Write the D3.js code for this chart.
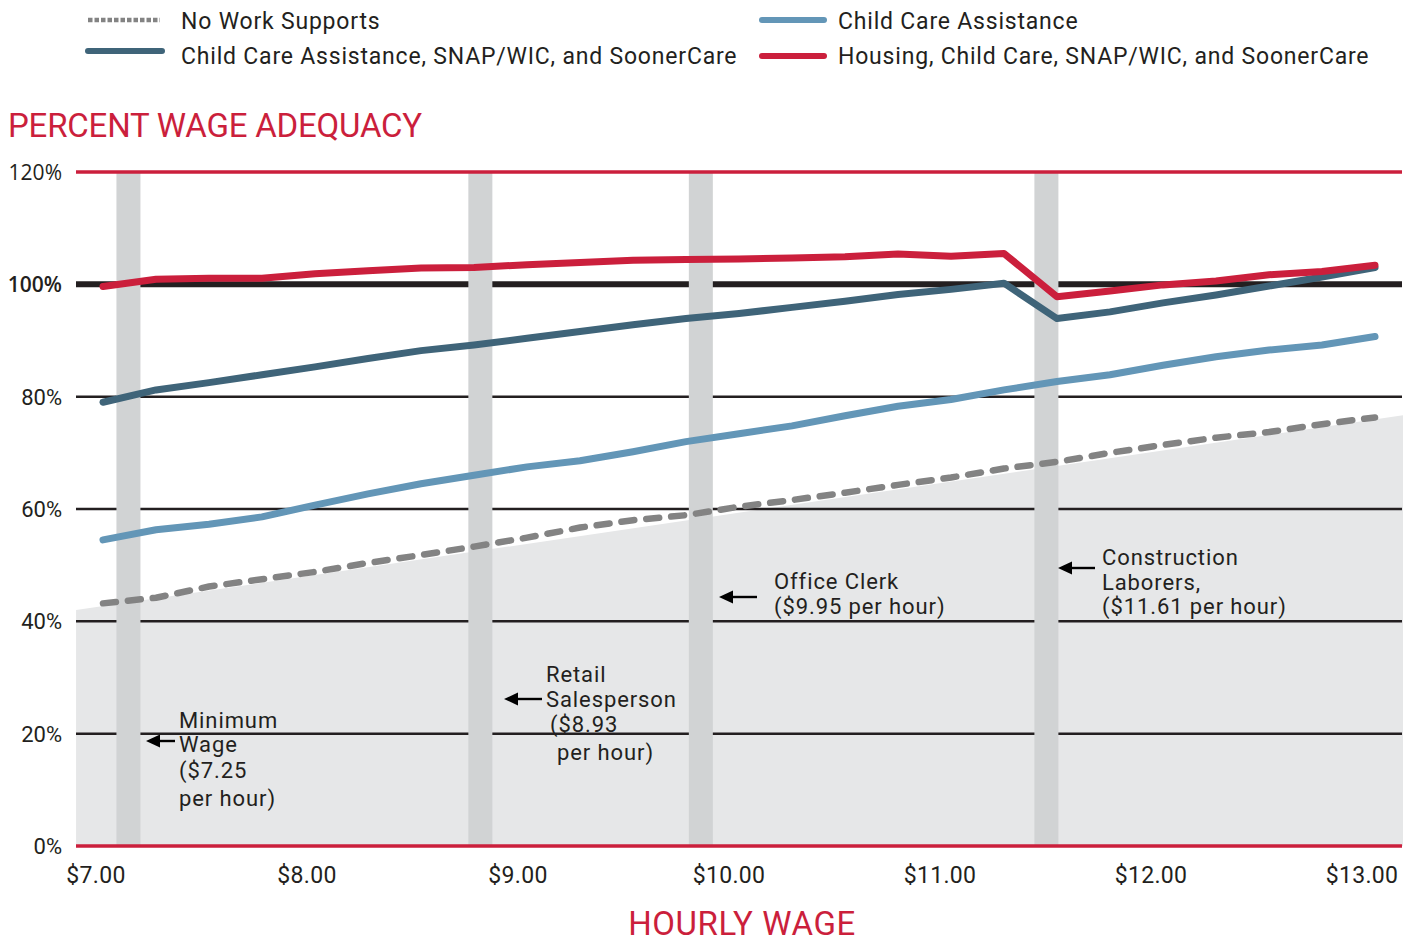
<!DOCTYPE html>
<html>
<head>
<meta charset="utf-8">
<script src="https://cdn.jsdelivr.net/npm/d3@7"></script>
<style>
  body { margin: 0; background: #fff; }
  svg text { font-family: Roboto, "Liberation Sans", sans-serif; fill: #231f20; }
</style>
</head>
<body>
<div id="chart"></div>
<script>

// hourly wages ($0.25 steps)
var wages = [7.00, 7.25, 7.50, 7.75, 8.00, 8.25, 8.50, 8.75, 9.00, 9.25, 9.50, 9.75, 10.00,
             10.25, 10.50, 10.75, 11.00, 11.25, 11.50, 11.75, 12.00, 12.25, 12.50, 12.75, 13.00];

// percent wage adequacy per series
var noSupports    = [43.2, 44.2, 46.2, 47.5, 48.8, 50.4, 51.8, 53.3, 54.9, 56.7, 58.0, 58.9, 60.4,
                     61.6, 62.9, 64.3, 65.6, 67.2, 68.4, 70.0, 71.4, 72.7, 73.7, 75.1, 76.3];
var childCare     = [54.5, 56.3, 57.3, 58.6, 60.7, 62.7, 64.5, 66.0, 67.5, 68.6, 70.2, 72.0, 73.4,
                     74.8, 76.6, 78.3, 79.5, 81.2, 82.7, 83.9, 85.6, 87.1, 88.3, 89.2, 90.7];
var childCareSnap = [79.0, 81.2, 82.5, 83.9, 85.3, 86.8, 88.2, 89.2, 90.4, 91.6, 92.8, 93.9, 94.8,
                     95.9, 97.0, 98.2, 99.1, 100.2, 93.9, 95.1, 96.7, 98.1, 99.7, 101.3, 103.0];
var housing       = [99.6, 100.9, 101.1, 101.1, 101.9, 102.4, 102.9, 103.0, 103.5, 103.9, 104.3, 104.4, 104.5,
                     104.7, 104.9, 105.4, 105.0, 105.5, 97.8, 98.8, 99.9, 100.6, 101.7, 102.3, 103.4];

// shaded band behind the chart (edge of "no supports" region)
var bandWages = [6.873, 13.132];
var bandPct   = [42.0, 76.7];

var seriesNames = ['No Work Supports', 'Child Care Assistance',
                   'Child Care Assistance, SNAP/WIC, and SoonerCare',
                   'Housing, Child Care, SNAP/WIC, and SoonerCare'];

var yTicks = [0, 20, 40, 60, 80, 100, 120];
var xTicks = [7, 8, 9, 10, 11, 12, 13];

// occupation markers (position of the gray bars on the wage axis)
var markerWages = [7.12, 8.78, 9.82, 11.45];
var markerLabels = [
  ['Minimum', 'Wage', '($7.25', 'per hour)'],
  ['Retail', 'Salesperson', '($8.93', 'per hour)'],
  ['Office Clerk', '($9.95 per hour)'],
  ['Construction', 'Laborers,', '($11.61 per hour)']
];

var red = '#cb1f3c', slate = '#3f6479', blue = '#6396b7', grey = '#838383', ink = '#231f20';

var width = 1416, height = 942
  , plotLeft = 76, plotRight = 1402
  ;

var x = d3.scaleLinear().domain([7, 13]).range([103, 1375]);
var y = d3.scaleLinear().domain([0, 120]).range([846, 172]);
// tick labels sit a little left of the data positions
var xLabel = d3.scaleLinear().domain([7, 13]).range([96, 1362]);

var svg = d3.select('#chart').append('svg')
    .attr('width', width)
    .attr('height', height);

// background band
var band = d3.area()
    .x((d, i) => x(bandWages[i]))
    .y0(y(0))
    .y1(d => y(d));

svg.append('path')
    .datum(bandPct)
    .attr('d', band)
    .attr('fill', '#e6e7e8');

// grid lines
svg.append('g').selectAll('line')
    .data(yTicks.filter(d => d > 0 && d < 100))
  .enter().append('line')
    .attr('x1', plotLeft).attr('x2', plotRight)
    .attr('y1', d => y(d)).attr('y2', d => y(d))
    .attr('stroke', ink)
    .attr('stroke-width', 2.5);

svg.append('line')
    .attr('x1', plotLeft).attr('x2', plotRight)
    .attr('y1', y(100)).attr('y2', y(100))
    .attr('stroke', ink)
    .attr('stroke-width', 6);

// occupation bars
svg.append('g').selectAll('rect')
    .data(markerWages)
  .enter().append('rect')
    .attr('x', d => x(d) - 12)
    .attr('width', 24)
    .attr('y', y(120))
    .attr('height', y(0) - y(120))
    .attr('fill', '#d1d3d4');

// red frame lines
svg.append('g').selectAll('line')
    .data([0, 120])
  .enter().append('line')
    .attr('x1', plotLeft).attr('x2', plotRight)
    .attr('y1', d => y(d)).attr('y2', d => y(d))
    .attr('stroke', red)
    .attr('stroke-width', 3.5);

// y labels
svg.append('g').selectAll('text')
    .data(yTicks)
  .enter().append('text')
    .attr('x', 62)
    .attr('y', d => y(d))
    .attr('dy', '0.36em')
    .attr('text-anchor', 'end')
    .style('font-family', d => d >= 100 ? '"Open Sans", sans-serif' : null)
    .style('font-size', d => d >= 100 ? '21px' : '22px')
    .style('font-weight', d => d === 100 ? 600 : 400)
    .text(d => d + '%');

// x labels
svg.append('g').selectAll('text')
    .data(xTicks)
  .enter().append('text')
    .attr('x', d => xLabel(d))
    .attr('y', 883)
    .attr('text-anchor', 'middle')
    .style('font-size', '23px')
    .style('letter-spacing', '0.3px')
    .text(d => '$' + d.toFixed(2));

// series lines
var line = d3.line()
    .x((d, i) => x(wages[i]))
    .y(d => y(d));

var series = [
  { values: noSupports, color: grey, width: 6.5, dash: '13 12' },
  { values: childCare, color: blue, width: 7, dash: null },
  { values: childCareSnap, color: slate, width: 7, dash: null },
  { values: housing, color: red, width: 7, dash: null }
];

svg.append('g').selectAll('path')
    .data(series)
  .enter().append('path')
    .attr('d', d => line(d.values))
    .attr('fill', 'none')
    .attr('stroke', d => d.color)
    .attr('stroke-width', d => d.width)
    .attr('stroke-dasharray', d => d.dash)
    .attr('stroke-linecap', 'round')
    .attr('stroke-linejoin', 'round');

// annotations
var notePos = [
  { arrow: [175, 146, 741], lines: [[179, 728], [179, 752], [179, 778], [179, 806]] },
  { arrow: [542, 504, 699], lines: [[546, 682], [546, 707], [550, 732], [557, 760]] },
  { arrow: [757, 719, 597], lines: [[774, 589], [774, 614]] },
  { arrow: [1095, 1058, 568], lines: [[1102, 565], [1102, 590], [1102, 614]] }
];

var notes = svg.append('g');
markerLabels.forEach(function (lines, k) {
  var p = notePos[k], a = p.arrow;
  notes.append('line')
      .attr('x1', a[0]).attr('x2', a[1] + 10)
      .attr('y1', a[2]).attr('y2', a[2])
      .attr('stroke', '#000')
      .attr('stroke-width', 2.4);
  notes.append('path')
      .attr('d', 'M' + a[1] + ',' + a[2] + 'l14,-6.5l0,13z')
      .attr('fill', '#000');
  lines.forEach(function (t, j) {
    notes.append('text')
        .attr('x', p.lines[j][0])
        .attr('y', p.lines[j][1])
        .style('font-size', '22px')
        .style('letter-spacing', '0.9px')
        .text(t);
  });
});

// legend
var legendPos = [
  { x1: 88, x2: 160, y: 20, tx: 181, ty: 29 },
  { x1: 762, x2: 824, y: 20, tx: 838, ty: 29 },
  { x1: 88, x2: 162, y: 51, tx: 181, ty: 64 },
  { x1: 762, x2: 824, y: 56, tx: 838, ty: 64 }
];
var legendStyle = [
  { color: grey, width: 4.5, dash: '4.5 2', cap: 'butt' },
  { color: blue, width: 6, dash: null, cap: 'round' },
  { color: slate, width: 6, dash: null, cap: 'round' },
  { color: red, width: 6, dash: null, cap: 'round' }
];

var legend = svg.append('g');
seriesNames.forEach(function (name, i) {
  var p = legendPos[i], s = legendStyle[i];
  legend.append('line')
      .attr('x1', p.x1).attr('x2', p.x2)
      .attr('y1', p.y).attr('y2', p.y)
      .attr('stroke', s.color)
      .attr('stroke-width', s.width)
      .attr('stroke-dasharray', s.dash)
      .attr('stroke-linecap', s.cap);
  legend.append('text')
      .attr('x', p.tx)
      .attr('y', p.ty)
      .style('font-size', '23px')
      .style('letter-spacing', '0.8px')
      .text(name);
});

// titles
svg.append('text')
    .attr('x', 8)
    .attr('y', 137)
    .style('font-size', '33px')
    .style('letter-spacing', '-0.2px')
    .style('fill', red)
    .text('PERCENT WAGE ADEQUACY');

svg.append('text')
    .attr('x', 742)
    .attr('y', 935)
    .attr('text-anchor', 'middle')
    .style('font-size', '33px')
    .style('letter-spacing', '0.6px')
    .style('fill', red)
    .text('HOURLY WAGE');

</script>
</body>
</html>
